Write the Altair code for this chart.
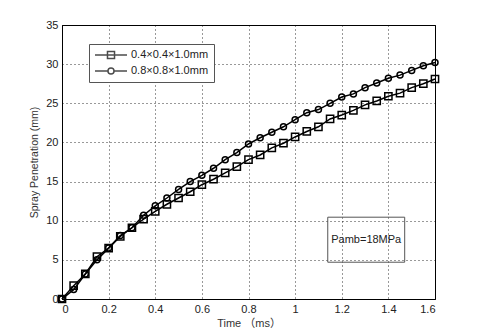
import altair as alt
import pandas as pd

# ---- data ----
times = [0, 0.05, 0.1, 0.15, 0.2, 0.25, 0.3, 0.35, 0.4, 0.45, 0.5, 0.55, 0.6, 0.65,
         0.7, 0.75, 0.8, 0.85, 0.9, 0.95, 1.0, 1.05, 1.1, 1.15, 1.2, 1.25, 1.3, 1.35,
         1.4, 1.45, 1.5, 1.55, 1.6]
pen_small = [0, 1.7, 3.2, 5.4, 6.5, 8.0, 9.1, 10.2, 11.2, 12.1, 12.9, 13.7, 14.6, 15.3,
             16.1, 16.9, 17.8, 18.4, 19.3, 19.9, 20.7, 21.4, 22.0, 23.0, 23.5, 24.1, 24.8,
             25.3, 25.9, 26.3, 27.0, 27.5, 28.1]
pen_large = [0, 1.2, 3.2, 5.0, 6.5, 8.1, 9.1, 10.7, 11.9, 12.9, 14.0, 15.0, 15.8, 16.7,
             17.8, 18.7, 19.8, 20.6, 21.3, 22.0, 22.9, 23.8, 24.2, 25.0, 25.8, 26.2, 27.0,
             27.6, 28.2, 28.6, 29.2, 29.8, 30.2]
series_names = ["0.4×0.4×1.0mm", "0.8×0.8×1.0mm"]
x_ticks = [0, 0.2, 0.4, 0.6, 0.8, 1.0, 1.2, 1.4, 1.6]
y_ticks = [0, 5, 10, 15, 20, 25, 30, 35]
note_text = "Pamb=18MPa"
note_box = {"x": 1.14, "x2": 1.47, "y": 4.7, "y2": 10.45}

df = pd.DataFrame({
    "t": times * 2,
    "pen": pen_small + pen_large,
    "series": [series_names[0]] * len(times) + [series_names[1]] * len(times),
})

FONT = "Liberation Sans, Arial, Noto Sans CJK SC"

x_scale = alt.Scale(domain=[0, 1.6], nice=False)
y_scale = alt.Scale(domain=[0, 35], nice=False)
x_axis = alt.Axis(values=x_ticks, format="~g", title="Time （ms）")
y_axis = alt.Axis(values=y_ticks, format="~g", title="Spray Penetration (mm)")

x_enc = alt.X("t:Q", scale=x_scale, axis=x_axis)
y_enc = alt.Y("pen:Q", scale=y_scale, axis=y_axis)

base = alt.Chart(df)

lines = base.mark_line(color="black", strokeWidth=1.5).encode(
    x=x_enc, y=y_enc, detail="series:N")

points = base.mark_point(filled=False, color="black", strokeWidth=1.5, opacity=1).encode(
    x=x_enc, y=y_enc,
    shape=alt.Shape("series:N", scale=alt.Scale(domain=series_names, range=["square", "circle"]),
                    legend=None),
    size=alt.Size("series:N", scale=alt.Scale(domain=series_names, range=[52, 36]), legend=None),
)

sq_path = "M-1,0H1M-0.22,-0.22H0.22V0.22H-0.22Z"
ci_path = "M-1,0H-0.19M0.19,0H1M-0.19,0A0.19,0.19 0 1,0 0.19,0A0.19,0.19 0 1,0 -0.19,0"

legend_layer = base.mark_point(filled=False, color="black", strokeWidth=1.5).encode(
    shape=alt.Shape("series:N",
                    scale=alt.Scale(domain=series_names, range=[sq_path, ci_path]),
                    legend=alt.Legend(title=None, orient="none", legendX=27, legendY=19,
                                      symbolSize=1024, symbolStrokeWidth=1.5,
                                      symbolStrokeColor="black", clipHeight=12,
                                      strokeColor="#555", fillColor="white",
                                      padding=5, rowPadding=4, labelOffset=3,
                                      labelFont=FONT, labelFontSize=11,
                                      labelColor="#222")),
).transform_filter("false")

note_df = pd.DataFrame([note_box])
note_rect = alt.Chart(note_df).mark_rect(fill="transparent", stroke="#555", strokeWidth=1).encode(
    x=alt.X("x:Q", scale=x_scale, axis=x_axis), x2="x2:Q",
    y=alt.Y("y:Q", scale=y_scale, axis=y_axis), y2="y2:Q")
note_label = alt.Chart(pd.DataFrame({"tx": [(note_box["x"] + note_box["x2"]) / 2],
                                     "ty": [(note_box["y"] + note_box["y2"]) / 2],
                                     "label": [note_text]})).mark_text(
    font=FONT, fontSize=11, color="#222", align="center", baseline="middle").encode(
    x=alt.X("tx:Q", scale=x_scale, axis=x_axis),
    y=alt.Y("ty:Q", scale=y_scale, axis=y_axis), text="label:N")

chart = alt.layer(lines, points, legend_layer, note_rect, note_label).resolve_scale(
    shape="independent", size="independent"
).properties(
    width=373, height=274,
    autosize=alt.AutoSizeParams(type="none"),
    padding={"left": 54, "top": 17, "right": 37, "bottom": 37},
).configure_view(
    stroke="black", strokeWidth=1
).configure_axis(
    grid=True, gridColor="#000", gridDash=[1, 3], gridWidth=1, gridOpacity=0.8,
    domainColor="black", ticks=False, labelFont=FONT, labelFontSize=11,
    labelColor="#222", titleFont=FONT, titleColor="#333", titleFontWeight="normal",
    labelPadding=4,
).configure_axisX(
    titleFontSize=11, titlePadding=3,
).configure_axisY(
    titleFontSize=10.5, titlePadding=6,
)

chart.save("out.html", embed_options={"renderer": "svg", "actions": False})
